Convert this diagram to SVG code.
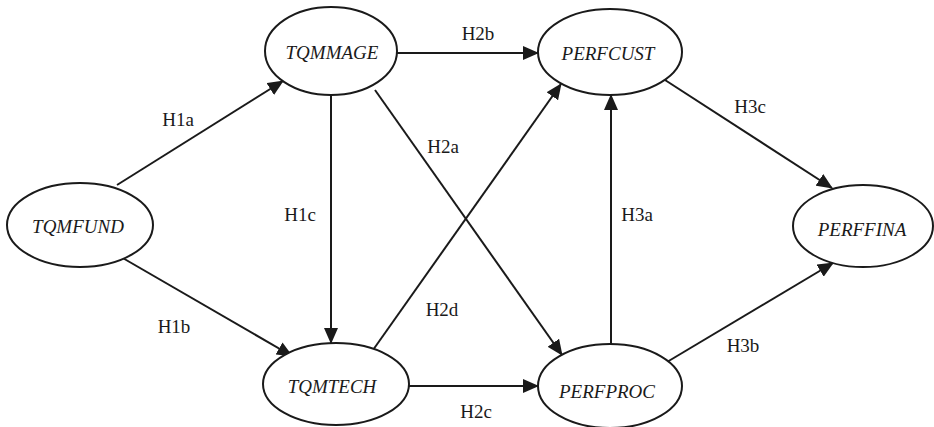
<svg xmlns="http://www.w3.org/2000/svg" width="934" height="427" viewBox="0 0 934 427">
  <style>
    .node ellipse { fill: #ffffff; stroke: #1a1a1a; stroke-width: 2; }
    .node text { font-family: 'Liberation Serif', 'Times New Roman', Times, serif; font-style: italic; font-size: 19px; fill: #1a1a1a; text-anchor: middle; }
    .edge line { stroke: #1a1a1a; stroke-width: 2; marker-end: url(#arrow); }
    .label { font-family: 'Liberation Serif', 'Times New Roman', Times, serif; font-size: 19px; fill: #1a1a1a; text-anchor: middle; }
  </style>
  <defs>
    <marker id="arrow" markerUnits="userSpaceOnUse" markerWidth="16" markerHeight="14" viewBox="0 0 16 14" refX="15" refY="7" orient="auto">
      <path d="M0,0 L16,7 L0,14 z" fill="#1a1a1a"/>
    </marker>
  </defs>
  <rect width="934" height="427" fill="#ffffff"/>

  <!-- connectors and their hypothesis labels -->
  <g id="connectors">
    <g class="edge" id="H1a"><line x1="117" y1="185" x2="283" y2="81"/></g>
    <g class="edge" id="H1b"><line x1="121" y1="257" x2="292" y2="356"/></g>
    <g class="edge" id="H1c"><line x1="331" y1="95" x2="331" y2="343"/></g>
    <g class="edge" id="H2a"><line x1="375" y1="90" x2="562" y2="355"/></g>
    <g class="edge" id="H2b"><line x1="397" y1="53" x2="538" y2="53"/></g>
    <g class="edge" id="H2c"><line x1="409" y1="386" x2="538" y2="386"/></g>
    <g class="edge" id="H2d"><line x1="373" y1="350" x2="561" y2="84"/></g>
    <g class="edge" id="H3a"><line x1="611" y1="344" x2="611" y2="95"/></g>
    <g class="edge" id="H3b"><line x1="667" y1="362" x2="833" y2="263"/></g>
    <g class="edge" id="H3c"><line x1="665" y1="80" x2="832" y2="188"/></g>
    <text class="label" x="178" y="126">H1a</text>
    <text class="label" x="174" y="333">H1b</text>
    <text class="label" x="300" y="221">H1c</text>
    <text class="label" x="443" y="153">H2a</text>
    <text class="label" x="478" y="40">H2b</text>
    <text class="label" x="476" y="418">H2c</text>
    <text class="label" x="442" y="316">H2d</text>
    <text class="label" x="637" y="221">H3a</text>
    <text class="label" x="743" y="352">H3b</text>
    <text class="label" x="750" y="113">H3c</text>
  </g>

  <!-- construct nodes -->
  <g class="node" id="TQMFUND">
    <ellipse cx="80" cy="225" rx="73" ry="42"/>
    <text x="78" y="233">TQMFUND</text>
  </g>
  <g class="node" id="TQMMAGE">
    <ellipse cx="331" cy="51" rx="66" ry="44"/>
    <text x="332" y="59">TQMMAGE</text>
  </g>
  <g class="node" id="TQMTECH">
    <ellipse cx="336" cy="384" rx="73" ry="41"/>
    <text x="332" y="393">TQMTECH</text>
  </g>
  <g class="node" id="PERFCUST">
    <ellipse cx="610" cy="52" rx="72" ry="43"/>
    <text x="608" y="60">PERFCUST</text>
  </g>
  <g class="node" id="PERFPROC">
    <ellipse cx="610" cy="386" rx="72" ry="42"/>
    <text x="607" y="398">PERFPROC</text>
  </g>
  <g class="node" id="PERFFINA">
    <ellipse cx="863" cy="226" rx="70" ry="41"/>
    <text x="862" y="236">PERFFINA</text>
  </g>
</svg>
